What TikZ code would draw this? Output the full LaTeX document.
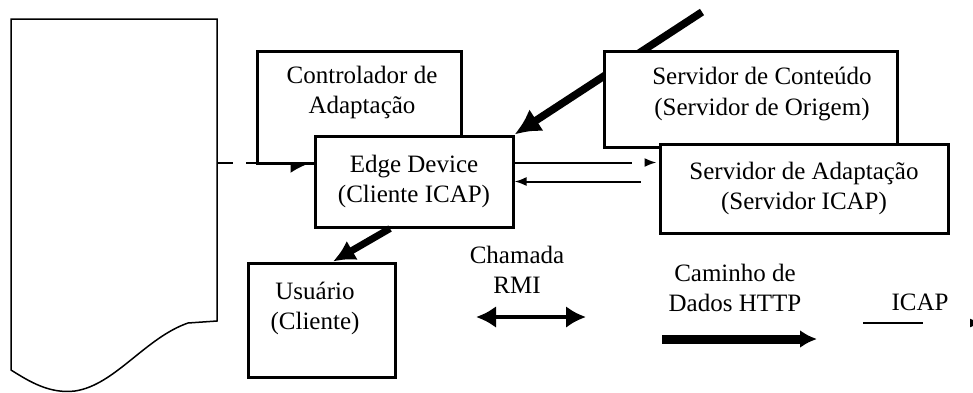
\documentclass[tikz,border=0pt]{standalone}
\usepackage{fontspec}
\setmainfont{Liberation Serif}
\usetikzlibrary{arrows.meta, positioning}
\tikzset{
	every node/.style={font=\fontsize{12.5}{15}\selectfont, align=center}, % all texts
	box/.style={draw, line width=1.5pt, fill=white, inner sep=0pt}, % the white rectangles
	thin arrow/.style={line width=1pt, -{Latex[length=6pt,width=4.5pt]}}, % ICAP messages
	fat arrow/.style={line width=3.8pt, -{Latex[length=13pt,width=13pt]}}, % HTTP data path
}

\begin{document}
\begin{tikzpicture}[x=0.5pt, y=-0.5pt]
	\useasboundingbox (0,0) rectangle (973,392);
	\clip (0,0) rectangle (973,392);
	% page on the left
	\draw[line width=0.75pt] (11,19) -- (217,19) -- (217,321) -- (188,323)
		.. controls (145,338) and (115,385) .. (75,391)
		.. controls (50,394) and (30,382) .. (11,370) -- cycle;
	\coordinate (page) at (217,163);

	\node[box, minimum width=102pt, minimum height=56pt] (ctrl) at (359,107) {};
	\node (ctrl-lbl) at (362,92) {Controlador de\\Adaptação};
	\node[box, minimum width=99pt, minimum height=45.5pt] (edge) at (414,181.5) {Edge Device\\(Cliente ICAP)};
	\node[box, minimum width=73.5pt, minimum height=57pt] (usr) at (321.5,320) {};
	\node (usr-lbl) at (315,308) {Usuário\\(Cliente)};

	% data coming from the web, behind the origin server
	\coordinate (web) at (702,12);
	\draw[fat arrow] (web) -- (edge.north east);

	\node[box, minimum width=146.5pt, minimum height=48pt] (srvc) at (750.5,99) {};
	\node (srvc-lbl) at (762,94) {Servidor de Conteúdo\\(Servidor de Origem)};
	\node[box, minimum width=144pt, minimum height=44.5pt] (srva) at (804,188.5) {Servidor de Adaptação\\(Servidor ICAP)};

	% edges
	\draw[line width=1pt, dash pattern=on 8pt off 6.5pt on 60pt, -{Latex[right,length=10pt,width=10pt]}]
		(page) -- ([yshift=9.25pt]edge.west);
	\draw[line width=3.5pt, -{Latex[length=11pt,width=11pt]}] ([xshift=-12pt]edge.south) -- ([xshift=5.75pt]usr.north);

	\coordinate (out-end) at ([yshift=9.5pt]edge.east -| srva.west);
	\draw[line width=1pt, shorten >=13.5pt] ([yshift=9.5pt]edge.east) -- (out-end);
	\draw[thin arrow, shorten >=1pt] ([xshift=-7pt]out-end) -- (out-end);
	\coordinate (back-start) at ([xshift=-9pt]srva.west |- edge.east);
	\draw[thin arrow] (back-start) -- (edge.east);

	% legend
	\node (rmi-lbl) at (517,270) {Chamada\\RMI};
	\coordinate (rmi-a) at (476,317);
	\coordinate (rmi-b) at (586,317);
	\draw[line width=2pt, {Latex[length=10pt,width=11pt]}-{Latex[length=10pt,width=11pt]}] (rmi-a) -- (rmi-b);

	\node (http-lbl) at (735,288) {Caminho de\\Dados HTTP};
	\coordinate (http-a) at (662,339);
	\coordinate (http-b) at (817,339);
	\draw[line width=4.5pt, -{Latex[length=8.5pt,width=9pt]}] (http-a) -- (http-b);

	\node (icap-lbl) at (920,302) {ICAP};
	\coordinate (icap-a) at (863,323);
	\coordinate (icap-b) at (923,323);
	\coordinate (icap-t) at (970,323);
	\coordinate (icap-tip) at (982,323);
	\draw[line width=1pt] (icap-a) -- (icap-b);
	\draw[thin arrow] (icap-t) -- (icap-tip);
\end{tikzpicture}
\end{document}
